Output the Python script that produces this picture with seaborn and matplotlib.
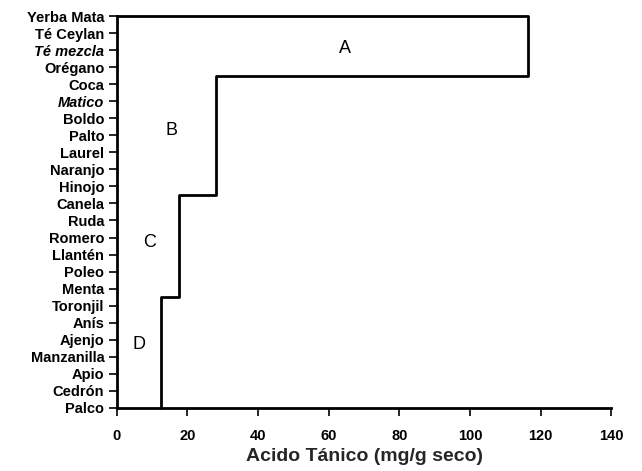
import matplotlib
matplotlib.use("Agg")
import matplotlib.pyplot as plt
import seaborn as sns

sns.set_style("ticks")
plt.rcParams['font.family'] = ['Liberation Sans', 'DejaVu Sans']
plt.rcParams['text.color'] = 'black'

# Plantas, de arriba hacia abajo
plantas = ['Yerba Mata', 'Té Ceylan', 'Té mezcla', 'Orégano', 'Coca', 'Matico',
           'Boldo', 'Palto', 'Laurel', 'Naranjo', 'Hinojo', 'Canela', 'Ruda',
           'Romero', 'Llantén', 'Poleo', 'Menta', 'Toronjil', 'Anís', 'Ajenjo',
           'Manzanilla', 'Apio', 'Cedrón', 'Palco']
grupos = ['A'] * 4 + ['B'] * 7 + ['C'] * 6 + ['D'] * 7
limite_grupo = {'A': 116.5, 'B': 28.0, 'C': 17.5, 'D': 12.5}
italicas = ['Té mezcla', 'Matico']

n = len(plantas)
pos = [n - 1 - i for i in range(n)]  # Palco abajo en 0

# contorno escalonado de los grupos
xs, ys = [0.0], [float(pos[0])]
for p, g in zip(pos, grupos):
    v = limite_grupo[g]
    xs += [v, v]
    ys += [min(p + 0.5, n - 1), max(p - 0.5, 0)]

fig, ax = plt.subplots(figsize=(6.42, 4.71), dpi=100)
fig.subplots_adjust(left=0.182, right=0.952, bottom=0.134, top=0.966)

sns.lineplot(x=xs, y=ys, sort=False, estimator=None, color='black',
             linewidth=2, ax=ax, clip_on=False)

ax.set_xlim(0, 140)
ax.set_ylim(0, n - 1)
ax.set_xticks(range(0, 141, 20))
ax.set_yticks(pos)
ax.set_yticklabels(plantas)
for lab in ax.get_yticklabels():
    lab.set_fontweight('bold')
    if lab.get_text() in italicas:
        lab.set_fontstyle('italic')
for lab in ax.get_xticklabels():
    lab.set_fontweight('bold')
ax.tick_params(labelsize=10.5, length=6, width=1.2, colors='black', pad=3)
ax.tick_params(axis='x', pad=9)

sns.despine(ax=ax)
for s in ['left', 'bottom']:
    ax.spines[s].set_linewidth(2)
    ax.spines[s].set_color('black')

ax.set_xlabel('Acido Tánico (mg/g seco)', fontsize=14, fontweight='bold',
              labelpad=4)

etiquetas = ['A', 'B', 'C', 'D']
etq_x = [64.6, 15.6, 9.3, 6.2]
etq_y = [21.1, 16.3, 9.7, 3.7]
for t, x, y in zip(etiquetas, etq_x, etq_y):
    ax.text(x, y, t, fontsize=13, ha='center', va='center', color='black')

plt.savefig('out.png', dpi=100)
